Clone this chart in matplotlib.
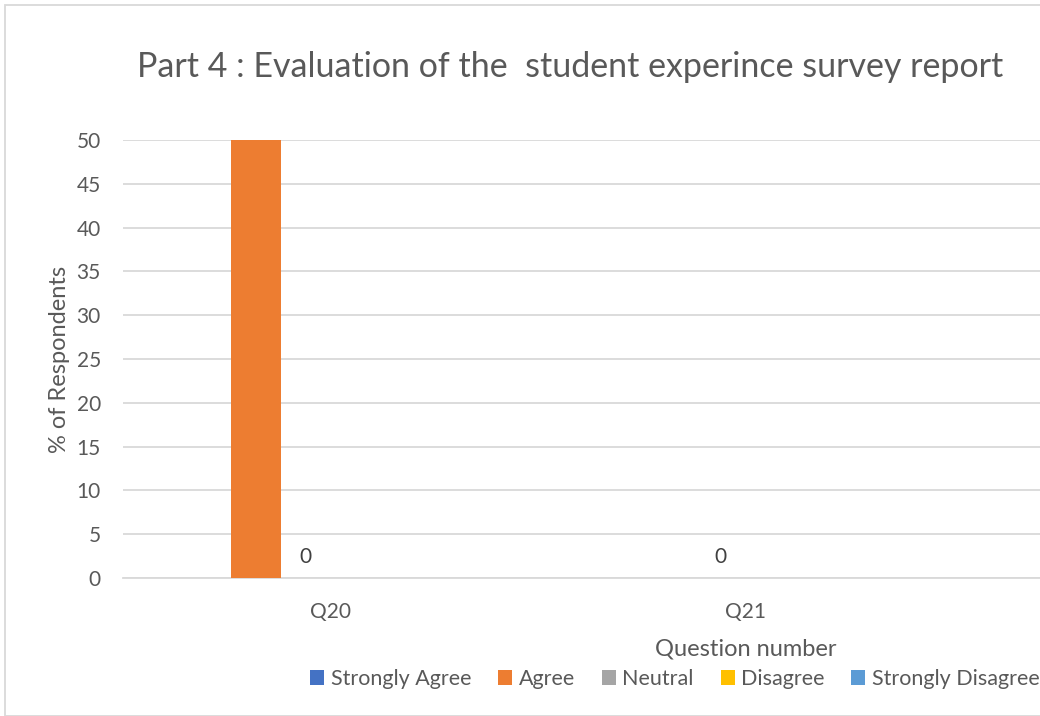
import matplotlib
matplotlib.use("Agg")
import numpy as np
import matplotlib.pyplot as plt
from matplotlib.patches import Rectangle

plt.rcParams['font.family'] = ['Lato', 'DejaVu Sans']

questions = ["Q20", "Q21"]
series = ["Strongly Agree", "Agree", "Neutral", "Disagree", "Strongly Disagree"]
strongly_agree = [0, 0]
agree = [50, 0]
neutral = [0, 0]
disagree = [0, 0]
strongly_disagree = [0, 0]
colors = ["#4472C4", "#ED7D31", "#A5A5A5", "#FFC000", "#5B9BD5"]
yticks = list(range(0, 55, 5))

text_col = "#595959"
grid_col = "#D9D9D9"

W, H = 1040, 716
fig = plt.figure(figsize=(W / 100, H / 100), dpi=100)

# plot area runs past the right edge of the picture (chart is cropped)
left, right, top, bottom = 123, 1368, 140, 578
ax = fig.add_axes([left / W, 1 - bottom / H, (right - left) / W, (bottom - top) / H])

values = [strongly_agree, agree, neutral, disagree, strongly_disagree]
x = np.arange(len(questions))
width = 0.12
slots = 6
containers = []
for i, (name, vals, c) in enumerate(zip(series, values, colors)):
    off = (i - (slots - 1) / 2) * width
    bc = ax.bar(x + off, vals, width, color=c, label=name, zorder=3)
    containers.append(bc)

ax.bar_label(containers[2], fmt="%g", padding=8, fontsize=15, color="#404040")

ax.set_xlim(-0.5, 2.5)
ax.set_ylim(0, 50)
ax.set_xticks(x)
ax.set_xticklabels(questions)
ax.set_yticks(yticks)
ax.tick_params(axis="both", length=0, labelsize=15, colors=text_col)
ax.tick_params(axis="y", pad=16)
ax.tick_params(axis="x", pad=17)
ax.yaxis.grid(True, color=grid_col, linewidth=1.3, zorder=0)
for s in ["top", "right", "left"]:
    ax.spines[s].set_visible(False)
ax.spines["bottom"].set_color(grid_col)
ax.spines["bottom"].set_linewidth(1.3)

ax.set_ylabel("% of Respondents", fontsize=17, color=text_col, labelpad=5)
ax.set_xlabel("Question number", fontsize=17, color=text_col, labelpad=12)

fig.text(570 / W, 1 - 67 / H, "Part 4 : Evaluation of the  student experince survey report",
         ha="center", va="center", fontsize=24.5, color=text_col)

leg = fig.legend(loc="center", bbox_to_anchor=(675 / W, 1 - 679 / H), ncol=5, frameon=False,
                 fontsize=15.5, handlelength=0.65, handleheight=0.65, handletextpad=0.3,
                 columnspacing=1.25, labelcolor=text_col)

fig.patches.append(Rectangle((5 / W, 0), 1.2, 1 - 5 / H, transform=fig.transFigure,
                             fill=False, edgecolor=grid_col, linewidth=1.3))

fig.savefig("out.png", dpi=100)
